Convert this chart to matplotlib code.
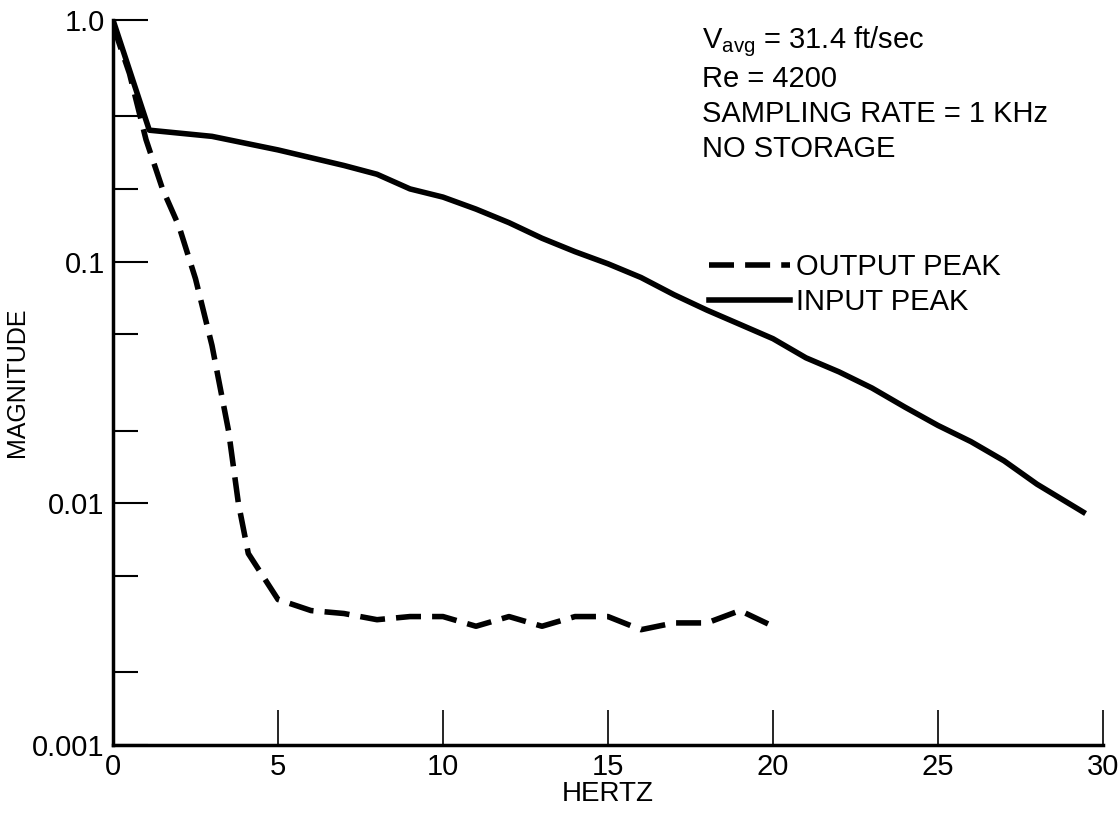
import matplotlib

matplotlib.use("Agg")
import matplotlib.pyplot as plt
from matplotlib.ticker import FixedLocator, NullFormatter

plt.rcParams["font.family"] = ["Liberation Sans Narrow", "Liberation Sans", "DejaVu Sans"]

input_hz = [0, 1.1, 3, 5, 7, 8, 9, 10, 11, 12, 13, 14, 15, 16, 17, 18, 19, 20,
            21, 22, 23, 24, 25, 26, 27, 28, 29.4]
input_mag = [1.0, 0.35, 0.33, 0.29, 0.25, 0.23, 0.2, 0.185, 0.165, 0.145, 0.125, 0.11,
             0.098, 0.086, 0.073, 0.063, 0.055, 0.048, 0.04, 0.035, 0.03, 0.025,
             0.021, 0.018, 0.015, 0.012, 0.0092]
output_hz = [0, 0.5, 1, 1.5, 2, 2.5, 3, 3.5, 3.8, 4.1, 5, 6, 7, 8, 9, 10, 11, 12,
             13, 14, 15, 16, 17, 18, 19, 20]
output_mag = [0.95, 0.6, 0.32, 0.2, 0.14, 0.085, 0.045, 0.02, 0.01, 0.0062, 0.004,
              0.0036, 0.0035, 0.0033, 0.0034, 0.0034, 0.0031, 0.0034, 0.0031, 0.0034,
              0.0034, 0.003, 0.0032, 0.0032, 0.0036, 0.0031]

fig = plt.figure(figsize=(11.2, 8.24), dpi=100)
ax = fig.add_axes([113 / 1120, 1 - 745 / 824, 990 / 1120, 725 / 824])
ax.plot(output_hz, output_mag, color="black", lw=4, dashes=(4.5, 2), label="OUTPUT PEAK")
ax.plot(input_hz, input_mag, color="black", lw=4, label="INPUT PEAK")
ax.set_yscale("log")
ax.set_xlim(0, 30)
ax.set_ylim(0.001, 1.0)
for s in ("top", "right"):
    ax.spines[s].set_visible(False)
ax.spines["left"].set_linewidth(2.5)
ax.spines["bottom"].set_linewidth(2.5)
ax.yaxis.set_major_locator(FixedLocator([0.001, 0.01, 0.1, 1.0]))
ax.set_yticklabels(["0.001", "0.01", "0.1", "1.0"])
ax.yaxis.set_minor_locator(FixedLocator([0.4, 0.2, 0.05, 0.02, 0.005, 0.002]))
ax.yaxis.set_minor_formatter(NullFormatter())
ax.set_xticks(range(0, 31, 5))
ax.tick_params(direction="in", length=25, width=1.5, labelsize=21, pad=6)
ax.tick_params(axis="y", which="minor", direction="in", length=18, width=1.5)
ax.tick_params(axis="x", length=25, width=1.2)
ax.set_xlabel("HERTZ", fontsize=20, labelpad=0)
ax.set_ylabel("MAGNITUDE", fontsize=18, labelpad=2)

ax.text(17.85, 0.96, r"V$_{\mathregular{avg}}$ = 31.4 ft/sec" "\nRe = 4200\nSAMPLING RATE = 1 KHz\nNO STORAGE",
        fontsize=21, va="top", linespacing=1.3)
ax.legend(loc="upper left", bbox_to_anchor=(0.575, 0.715), frameon=False, fontsize=21,
          handlelength=2.8, handletextpad=0.2, labelspacing=0.25)
fig.savefig("out.png", dpi=100)
